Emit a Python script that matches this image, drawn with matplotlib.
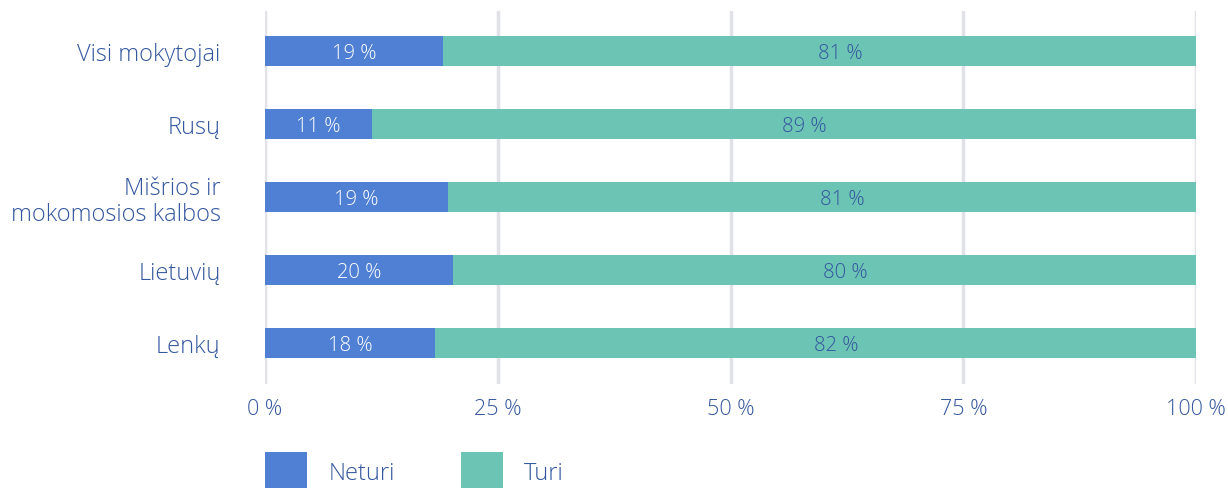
import matplotlib
matplotlib.use("Agg")
import matplotlib.pyplot as plt
from matplotlib.patches import Patch

categories = ["Visi mokytojai", "Rusų", "Mišrios ir\nmokomosios kalbos", "Lietuvių", "Lenkų"]
neturi = [19.1, 11.5, 19.7, 20.2, 18.3]
turi = [80.9, 88.5, 80.3, 79.8, 81.7]
neturi_labels = ["19 %", "11 %", "19 %", "20 %", "18 %"]
turi_labels = ["81 %", "89 %", "81 %", "80 %", "82 %"]
xticks = [0, 25, 50, 75, 100]
xtick_labels = ["0 %", "25 %", "50 %", "75 %", "100 %"]
series_names = ["Neturi", "Turi"]

BLUE = "#4F80D4"
TEAL = "#6CC4B4"
TXT = "#34579E"
GRID = "#E1E1E8"

plt.rcParams['font.family'] = ['Open Sans', 'DejaVu Sans']
plt.rcParams['font.weight'] = 'light'

fig = plt.figure(figsize=(12.28, 4.89), dpi=100)
ax = fig.add_axes([265/1228, 1 - 385/489, (1196-265)/1228, (385-12)/489])

y = list(range(len(categories)))
h = 0.42
ax.barh(y, neturi, height=h, color=BLUE, zorder=3)
ax.barh(y, turi, left=neturi, height=h, color=TEAL, zorder=3)

for i in y:
    ax.text(neturi[i] / 2, i + 0.03, neturi_labels[i], ha="center", va="center",
            color="white", fontsize=14.5, zorder=4)
    ax.text(neturi[i] + turi[i] / 2 + 2.2, i + 0.03, turi_labels[i], ha="center", va="center",
            color=TXT, fontsize=14.5, zorder=4)

ax.set_ylim(4.56, -0.55)
ax.set_xlim(0, 100)
ax.set_yticks(y)
ax.set_yticklabels(categories, fontsize=17, color=TXT, linespacing=1.1)
ax.set_xticks(xticks)
ax.set_xticklabels(xtick_labels, fontsize=15.5, color=TXT)
ax.tick_params(axis="y", length=0, pad=32)
ax.tick_params(axis="x", length=0, pad=10)
for lab in ax.get_yticklabels():
    lab.set_horizontalalignment("right")

for s in ax.spines.values():
    s.set_visible(False)
ax.grid(axis="x", color=GRID, linewidth=2.5, zorder=0)
ax.set_axisbelow(True)

handles = [Patch(facecolor=BLUE, label=series_names[0]),
           Patch(facecolor=TEAL, label=series_names[1])]
leg = fig.legend(handles=handles, loc="lower left", bbox_to_anchor=(265/1228, -0.005),
                 ncol=2, frameon=False, fontsize=17, handlelength=1.78, handleheight=2.1,
                 handletextpad=0.9, columnspacing=2.8, borderaxespad=0, borderpad=0)
for t in leg.get_texts():
    t.set_color(TXT)

fig.savefig("out.png", dpi=100)
